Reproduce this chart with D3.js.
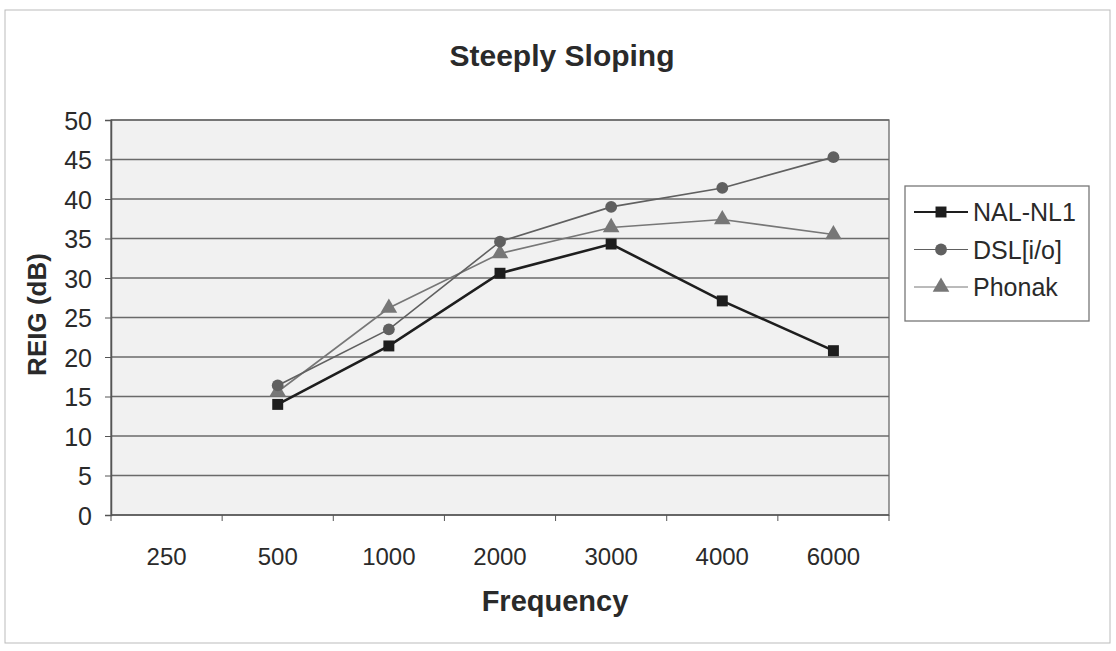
<!DOCTYPE html>
<html>
<head>
<meta charset="utf-8">
<script src="https://cdn.jsdelivr.net/npm/d3@7"></script>
<style>
  body { margin: 0; background: #fff; }
  text { font-family: "Liberation Sans", Arial, sans-serif; fill: #2a2a2a; }
</style>
</head>
<body>
<svg width="1116" height="651"></svg>
<script>
var frequencies = ["250", "500", "1000", "2000", "3000", "4000", "6000"];
var seriesNames = ["NAL-NL1", "DSL[i/o]", "Phonak"];
// null = no point at that frequency
var nalValues = [null, 14.0, 21.4, 30.6, 34.3, 27.1, 20.8];
var dslValues = [null, 16.4, 23.5, 34.6, 39.0, 41.4, 45.3];
var phonakValues = [null, 15.6, 26.2, 33.1, 36.4, 37.4, 35.5];
var yTicks = [0, 5, 10, 15, 20, 25, 30, 35, 40, 45, 50];

var margin = { left: 111, top: 120, right: 227, bottom: 136 };
var width = 1116, height = 651;

var svg = d3.select("svg");

// outer chart frame
svg.append("rect")
  .attr("x", 5).attr("y", 10)
  .attr("width", 1105).attr("height", 633)
  .attr("fill", "#fff")
  .attr("stroke", "#bbb");

var xScale = d3.scaleBand().domain(frequencies).range([margin.left, width - margin.right]);
var yScale = d3.scaleLinear().domain([0, 50]).range([height - margin.bottom, margin.top]);

// plot background
svg.append("rect")
  .attr("x", margin.left).attr("y", margin.top)
  .attr("width", xScale.range()[1] - margin.left)
  .attr("height", yScale(0) - margin.top)
  .attr("fill", "#f1f1f1");

// gridlines
svg.append("g").selectAll("line").data(yTicks.slice(1))
  .enter().append("line")
  .attr("x1", margin.left).attr("x2", xScale.range()[1])
  .attr("y1", function(d) { return yScale(d); })
  .attr("y2", function(d) { return yScale(d); })
  .attr("stroke", "#6a6a6a").attr("stroke-width", 1.3);

// plot border
svg.append("rect")
  .attr("x", margin.left).attr("y", margin.top)
  .attr("width", xScale.range()[1] - margin.left)
  .attr("height", yScale(0) - margin.top)
  .attr("fill", "none").attr("stroke", "#6a6a6a").attr("stroke-width", 1.3);

// axes
var yAxis = d3.axisLeft(yScale).tickValues(yTicks).tickSize(6).tickPadding(13);
var gy = svg.append("g")
  .attr("transform", "translate(" + margin.left + ",0)")
  .call(yAxis);
gy.select(".domain").attr("stroke", "#555").attr("stroke-width", 1.5);
gy.selectAll(".tick line").attr("stroke", "#555");
gy.selectAll("text").style("font-size", "25px").attr("fill", "#2a2a2a").attr("dy", "0.36em");

// x ticks at band edges
var xEdges = frequencies.map(function(f) { return xScale(f); }).concat([xScale.range()[1]]);
svg.append("g").selectAll("line").data(xEdges)
  .enter().append("line")
  .attr("x1", function(d) { return d; }).attr("x2", function(d) { return d; })
  .attr("y1", yScale(0)).attr("y2", yScale(0) + 6)
  .attr("stroke", "#555");
svg.append("line")
  .attr("x1", margin.left).attr("x2", xScale.range()[1])
  .attr("y1", yScale(0)).attr("y2", yScale(0))
  .attr("stroke", "#555").attr("stroke-width", 1.5);
svg.append("g").selectAll("text").data(frequencies)
  .enter().append("text")
  .attr("x", function(d) { return xScale(d) + xScale.bandwidth() / 2; })
  .attr("y", 565)
  .attr("text-anchor", "middle")
  .style("font-size", "24px")
  .text(function(d) { return d; });

// titles
svg.append("text").attr("x", 562).attr("y", 66).attr("text-anchor", "middle")
  .style("font-size", "30px").style("font-weight", "bold").text("Steeply Sloping");
svg.append("text").attr("x", 555).attr("y", 611).attr("text-anchor", "middle")
  .style("font-size", "29px").style("font-weight", "bold").text("Frequency");
svg.append("text")
  .attr("transform", "translate(46," + (yScale(25) - 3) + ") rotate(-90)")
  .attr("text-anchor", "middle")
  .style("font-size", "26px").style("font-weight", "bold").text("REIG (dB)");

var seriesList = [
  { name: seriesNames[0], values: nalValues, color: "#1e1e1e", width: 2.6, shape: d3.symbolSquare, size: 120 },
  { name: seriesNames[1], values: dslValues, color: "#606060", width: 1.6, shape: d3.symbolCircle, size: 110 },
  { name: seriesNames[2], values: phonakValues, color: "#777777", width: 1.6, shape: d3.symbolTriangle, size: 120 }
];

var line = d3.line()
  .defined(function(d) { return d.v != null; })
  .x(function(d) { return xScale(d.f) + xScale.bandwidth() / 2; })
  .y(function(d) { return yScale(d.v); });

seriesList.slice().reverse().forEach(function(s) {
  var pts = frequencies.map(function(f, i) { return { f: f, v: s.values[i] }; });
  svg.append("path").datum(pts)
    .attr("d", line)
    .attr("fill", "none")
    .attr("stroke", s.color)
    .attr("stroke-width", s.width);
  svg.append("g").selectAll("path").data(pts.filter(function(d) { return d.v != null; }))
    .enter().append("path")
    .attr("d", d3.symbol().type(s.shape).size(s.size))
    .attr("transform", function(d) {
      return "translate(" + (xScale(d.f) + xScale.bandwidth() / 2) + "," + yScale(d.v) + ")";
    })
    .attr("fill", s.color);
});

// legend
var legend = svg.append("g");
legend.append("rect")
  .attr("x", 905).attr("y", 186).attr("width", 184).attr("height", 135)
  .attr("fill", "#fff").attr("stroke", "#777").attr("stroke-width", 1.3);
seriesList.forEach(function(s, i) {
  var ly = 212 + i * 37.5;
  legend.append("line")
    .attr("x1", 914).attr("x2", 968).attr("y1", ly).attr("y2", ly)
    .attr("stroke", s.color).attr("stroke-width", s.width - 0.6);
  legend.append("path")
    .attr("d", d3.symbol().type(s.shape).size(s.size))
    .attr("transform", "translate(941," + ly + ")")
    .attr("fill", s.color);
  legend.append("text")
    .attr("x", 973).attr("y", ly + 9)
    .style("font-size", "25px")
    .text(s.name);
});
</script>
</body>
</html>
